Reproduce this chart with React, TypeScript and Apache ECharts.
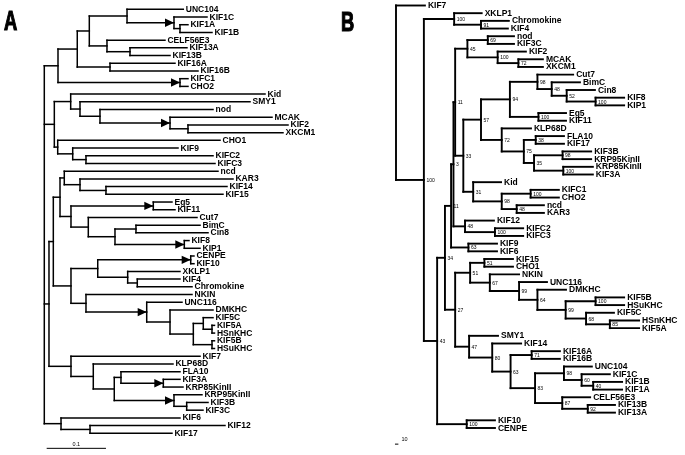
import React, { useEffect, useRef } from "react";
import * as echarts from "echarts";

type Row = [string, string | null, number, number?];

// Tree A: [node, parent, depth from root in substitutions per site]
const treeANodes: Row[] = [
  ["a:root", null, 0],
  ["a:n1", "a:root", 0.0231],
  ["a:n2", "a:n1", 0.0556],
  ["a:n3", "a:n2", 0.0759],
  ["a:unc", "a:n3", 0.1395],
  ["UNC104", "a:unc", 0.2344],
  ["a:kif1", "a:unc", 0.2187],
  ["KIF1C", "a:kif1", 0.2744],
  ["a:kif1ab", "a:kif1", 0.2288],
  ["KIF1A", "a:kif1ab", 0.2423],
  ["KIF1B", "a:kif1ab", 0.2828],
  ["a:celf", "a:n3", 0.1057],
  ["CELF56E3", "a:celf", 0.2035],
  ["a:kif13", "a:celf", 0.1445],
  ["KIF13A", "a:kif13", 0.2406],
  ["KIF13B", "a:kif13", 0.212],
  ["a:kif16", "a:n2", 0.1108],
  ["KIF16A", "a:kif16", 0.2204],
  ["KIF16B", "a:kif16", 0.2592],
  ["a:kifc1", "a:n1", 0.2288],
  ["KIFC1", "a:kifc1", 0.2423],
  ["CHO2", "a:kifc1", 0.2423],
  ["a:m", "a:root", 0.0169],
  ["a:k", "a:m", 0.0445],
  ["Kid", "a:k", 0.3722],
  ["a:s", "a:k", 0.0602],
  ["SMY1", "a:s", 0.3469],
  ["a:nod", "a:s", 0.0939],
  ["nod", "a:nod", 0.2845],
  ["a:mcak", "a:nod", 0.212],
  ["MCAK", "a:mcak", 0.384],
  ["a:kif2", "a:mcak", 0.2423],
  ["KIF2", "a:kif2", 0.411],
  ["XKCM1", "a:kif2", 0.4025],
  ["a:p", "a:m", 0.0226],
  ["CHO1", "a:p", 0.2963],
  ["a:q", "a:p", 0.0479],
  ["KIF9", "a:q", 0.2255],
  ["a:kifc2", "a:q", 0.0703],
  ["KIFC2", "a:kifc2", 0.2845],
  ["KIFC3", "a:kifc2", 0.2879],
  ["a:h", "a:root", 0.0079],
  ["a:g", "a:h", 0.0152],
  ["a:e", "a:g", 0.0265],
  ["a:ncd", "a:e", 0.0337],
  ["ncd", "a:ncd", 0.2929],
  ["a:kar3", "a:ncd", 0.0602],
  ["KAR3", "a:kar3", 0.3182],
  ["a:kif14", "a:kar3", 0.104],
  ["KIF14", "a:kif14", 0.3081],
  ["KIF15", "a:kif14", 0.3013],
  ["a:eg", "a:e", 0.045],
  ["a:eg5", "a:eg", 0.1838],
  ["Eg5", "a:eg5", 0.2153],
  ["KIF11", "a:eg5", 0.2204],
  ["a:cut7", "a:eg", 0.0742],
  ["Cut7", "a:cut7", 0.2575],
  ["a:bim", "a:cut7", 0.1192],
  ["a:bimc", "a:bim", 0.1546],
  ["BimC", "a:bimc", 0.2626],
  ["Cin8", "a:bimc", 0.2761],
  ["a:kif8", "a:bim", 0.2361],
  ["KIF8", "a:kif8", 0.244],
  ["KIP1", "a:kif8", 0.2626],
  ["a:f", "a:g", 0.045],
  ["a:cenpeg", "a:f", 0.0901],
  ["a:cenpe", "a:cenpeg", 0.2469],
  ["CENPE", "a:cenpe", 0.2524],
  ["KIF10", "a:cenpe", 0.2524],
  ["a:xklp", "a:cenpeg", 0.1406],
  ["XKLP1", "a:xklp", 0.2288],
  ["a:kif4", "a:xklp", 0.1568],
  ["KIF4", "a:kif4", 0.2288],
  ["Chromokine", "a:kif4", 0.2491],
  ["a:nkin", "a:f", 0.0703],
  ["NKIN", "a:nkin", 0.2491],
  ["a:unc116", "a:nkin", 0.1727],
  ["UNC116", "a:unc116", 0.2322],
  ["a:dmk", "a:unc116", 0.212],
  ["DMKHC", "a:dmk", 0.2845],
  ["a:kif5", "a:dmk", 0.2513],
  ["a:kif5c", "a:kif5", 0.2681],
  ["KIF5C", "a:kif5c", 0.2845],
  ["a:kif5a", "a:kif5c", 0.2828],
  ["KIF5A", "a:kif5a", 0.287],
  ["HSnKHC", "a:kif5a", 0.287],
  ["a:kif5b", "a:kif5", 0.2828],
  ["KIF5B", "a:kif5b", 0.287],
  ["HSuKHC", "a:kif5b", 0.287],
  ["a:kif7", "a:h", 0.045],
  ["KIF7", "a:kif7", 0.2626],
  ["a:klp", "a:kif7", 0.0826],
  ["KLP68D", "a:klp", 0.217],
  ["a:kif3", "a:klp", 0.118],
  ["a:fla", "a:kif3", 0.1293],
  ["FLA10", "a:fla", 0.2288],
  ["a:kif3a", "a:fla", 0.2007],
  ["KIF3A", "a:kif3a", 0.2288],
  ["KRP85KinII", "a:kif3a", 0.2339],
  ["a:krp95", "a:kif3", 0.2187],
  ["KRP95KinII", "a:krp95", 0.2659],
  ["a:kif3b", "a:krp95", 0.2401],
  ["KIF3B", "a:kif3b", 0.2761],
  ["KIF3C", "a:kif3b", 0.2676],
  ["a:kif6", "a:root", 0.0282],
  ["KIF6", "a:kif6", 0.2288],
  ["a:kif12", "a:kif6", 0.0771],
  ["KIF12", "a:kif12", 0.3047],
  ["KIF17", "a:kif12", 0.2153],
];

// nodes of tree A marked with an arrowhead
const treeAArrows: string[] = [
  "a:kif1", "a:kifc1", "a:mcak", "a:eg5", "a:kif8",
  "a:cenpe", "a:unc116", "a:kif3a", "a:krp95",
];

// Tree B: [node, parent, depth from root in steps, bootstrap support]
const treeBNodes: Row[] = [
  ["b:root", null, 0],
  ["KIF7", "b:root", 85],
  ["b:0", "b:root", 82, 100],
  ["b:xk", "b:0", 171, 100],
  ["XKLP1", "b:xk", 252],
  ["b:chr", "b:xk", 250, 91],
  ["Chromokine", "b:chr", 332],
  ["KIF4", "b:chr", 329],
  ["b:43", "b:0", 121, 43],
  ["b:34", "b:43", 144, 34],
  ["b:11b", "b:34", 162, 11],
  ["b:3", "b:11b", 169, 3],
  ["b:11a", "b:3", 174, 11],
  ["b:45", "b:11a", 210, 45],
  ["b:nod", "b:45", 270, 69],
  ["nod", "b:nod", 347],
  ["KIF3C", "b:nod", 347],
  ["b:kif2", "b:45", 299, 100],
  ["KIF2", "b:kif2", 382],
  ["b:mcak", "b:kif2", 360, 72],
  ["MCAK", "b:mcak", 432],
  ["XKCM1", "b:mcak", 432],
  ["b:33", "b:11a", 198, 33],
  ["b:57", "b:33", 250, 57],
  ["b:94", "b:57", 335, 94],
  ["b:cut7", "b:94", 416, 98],
  ["Cut7", "b:cut7", 521],
  ["b:bimc", "b:cut7", 458, 48],
  ["BimC", "b:bimc", 541],
  ["b:cin8", "b:bimc", 502, 52],
  ["Cin8", "b:cin8", 585],
  ["b:kif8", "b:cin8", 587, 100],
  ["KIF8", "b:kif8", 671],
  ["KIP1", "b:kif8", 671],
  ["b:eg5", "b:94", 419, 100],
  ["Eg5", "b:eg5", 500],
  ["KIF11", "b:eg5", 500],
  ["b:72", "b:57", 311, 72],
  ["KLP68D", "b:72", 397],
  ["b:75", "b:72", 376, 75],
  ["b:fla", "b:75", 411, 38],
  ["FLA10", "b:fla", 494],
  ["KIF17", "b:fla", 494],
  ["b:35", "b:75", 406, 35],
  ["b:kif3b", "b:35", 490, 98],
  ["KIF3B", "b:kif3b", 574],
  ["KRP95KinII", "b:kif3b", 574],
  ["b:krp85", "b:35", 492, 100],
  ["KRP85KinII", "b:krp85", 579],
  ["KIF3A", "b:krp85", 579],
  ["b:31", "b:33", 227, 31],
  ["Kid", "b:31", 309],
  ["b:98", "b:31", 311, 98],
  ["b:kifc1", "b:98", 396, 100],
  ["KIFC1", "b:kifc1", 479],
  ["CHO2", "b:kifc1", 479],
  ["b:ncd", "b:98", 355, 48],
  ["ncd", "b:ncd", 435],
  ["KAR3", "b:ncd", 435],
  ["b:kif12", "b:3", 203, 48],
  ["KIF12", "b:kif12", 288],
  ["b:kifc2", "b:kif12", 291, 100],
  ["KIFC2", "b:kifc2", 374],
  ["KIFC3", "b:kifc2", 374],
  ["b:kif9", "b:11b", 213, 63],
  ["KIF9", "b:kif9", 297],
  ["KIF6", "b:kif9", 297],
  ["b:27", "b:34", 174, 27],
  ["b:51", "b:27", 218, 51],
  ["b:kif15", "b:51", 260, 51],
  ["KIF15", "b:kif15", 344],
  ["CHO1", "b:kif15", 344],
  ["b:67", "b:51", 276, 67],
  ["NKIN", "b:67", 362],
  ["b:99", "b:67", 362, 99],
  ["UNC116", "b:99", 444],
  ["b:64", "b:99", 416, 64],
  ["DMKHC", "b:64", 500],
  ["b:99b", "b:64", 499, 99],
  ["b:kif5b", "b:99b", 587, 100],
  ["KIF5B", "b:kif5b", 671],
  ["HSuKHC", "b:kif5b", 671],
  ["b:68", "b:99b", 559, 68],
  ["KIF5C", "b:68", 641],
  ["b:85", "b:68", 629, 85],
  ["HSnKHC", "b:85", 715],
  ["KIF5A", "b:85", 715],
  ["b:47", "b:27", 215, 47],
  ["SMY1", "b:47", 300],
  ["b:80", "b:47", 283, 80],
  ["KIF14", "b:80", 368],
  ["b:63", "b:80", 337, 63],
  ["b:kif16", "b:63", 399, 71],
  ["KIF16A", "b:kif16", 482],
  ["KIF16B", "b:kif16", 482],
  ["b:83", "b:63", 409, 83],
  ["b:unc", "b:83", 494, 98],
  ["UNC104", "b:unc", 576],
  ["b:60", "b:unc", 546, 60],
  ["KIF1C", "b:60", 629],
  ["b:kif1b", "b:60", 580, 40],
  ["KIF1B", "b:kif1b", 665],
  ["KIF1A", "b:kif1b", 665],
  ["b:celf", "b:83", 489, 87],
  ["CELF56E3", "b:celf", 571],
  ["b:kif13", "b:celf", 564, 92],
  ["KIF13B", "b:kif13", 644],
  ["KIF13A", "b:kif13", 644],
  ["b:kif10", "b:43", 208, 100],
  ["KIF10", "b:kif10", 291],
  ["CENPE", "b:kif10", 291],
];

const scaleA = { length: 0.1, label: "0.1" };
const scaleB = { length: 10, label: "10" };
const panelLabels = ["A", "B"];

interface Laid {
  id: string;
  depth: number;
  parentDepth: number | null;
  y: number;
  yTop: number;
  yBot: number;
  leaf: boolean;
  support: number | null;
}

function layoutTree(rows: Row[]): Laid[] {
  const kids: Record<string, string[]> = {};
  const depth: Record<string, number> = {};
  rows.forEach((r) => {
    depth[r[0]] = r[2];
    if (r[1]) (kids[r[1]] = kids[r[1]] || []).push(r[0]);
  });
  const y: Record<string, number> = {};
  let k = 0;
  rows.forEach((r) => {
    if (!kids[r[0]]) y[r[0]] = k++;
  });
  const getY = (id: string): number => {
    if (y[id] === undefined) {
      const c = kids[id];
      y[id] = (getY(c[0]) + getY(c[c.length - 1])) / 2;
    }
    return y[id];
  };
  return rows.map((r) => {
    const c = kids[r[0]];
    return {
      id: r[0],
      depth: r[2],
      parentDepth: r[1] ? depth[r[1]] : null,
      y: getY(r[0]),
      yTop: c ? getY(c[0]) : getY(r[0]),
      yBot: c ? getY(c[c.length - 1]) : getY(r[0]),
      leaf: !c,
      support: r[3] === undefined ? null : r[3],
    };
  });
}

const FONT = '"Liberation Sans", Arial, Helvetica, sans-serif';

function makeTreeRender(nodes: Laid[], lw: number, gap: number, arrows: string[]) {
  return (params: any, api: any) => {
    const n = nodes[params.dataIndex];
    const p = api.coord([n.depth, n.y]);
    const ls = { stroke: "#000", lineWidth: lw, lineCap: "square" };
    const ch: any[] = [];
    if (n.parentDepth !== null) {
      const q = api.coord([n.parentDepth, n.y]);
      ch.push({ type: "line", shape: { x1: q[0], y1: p[1], x2: p[0], y2: p[1] }, style: ls });
    }
    if (!n.leaf) {
      const t = api.coord([n.depth, n.yTop]);
      const b = api.coord([n.depth, n.yBot]);
      ch.push({ type: "line", shape: { x1: p[0], y1: t[1], x2: p[0], y2: b[1] }, style: ls });
    } else {
      ch.push({
        type: "text",
        style: {
          text: n.id,
          x: p[0] + gap,
          y: p[1] - 0.5,
          fill: "#000",
          font: `bold 8.5px ${FONT}`,
          lineHeight: 7,
          textAlign: "left",
          textVerticalAlign: "middle",
        },
      });
    }
    if (arrows.indexOf(n.id) >= 0) {
      ch.push({
        type: "polygon",
        shape: { points: [[p[0], p[1]], [p[0] - 9, p[1] - 4.2], [p[0] - 9, p[1] + 4.2]] },
        style: { fill: "#000" },
      });
    }
    if (n.support !== null) {
      ch.push({
        type: "text",
        style: {
          text: String(n.support),
          x: p[0] + 2.5,
          y: p[1],
          fill: "#000",
          font: `5px ${FONT}`,
          lineHeight: 5,
          textAlign: "left",
          textVerticalAlign: "middle",
        },
      });
    }
    return { type: "group", children: ch };
  };
}

function makeScaleRender(length: number, label: string, lw: number, centered: boolean) {
  return (params: any, api: any) => {
    const a = api.coord([api.value(0), api.value(1)]);
    const b = api.coord([api.value(0) + length, api.value(1)]);
    return {
      type: "group",
      children: [
        { type: "line", shape: { x1: a[0], y1: a[1], x2: b[0], y2: b[1] }, style: { stroke: "#000", lineWidth: lw } },
        {
          type: "text",
          style: {
            text: label,
            x: centered ? (a[0] + b[0]) / 2 : b[0] + 3,
            y: a[1] - (centered ? 4 : 5),
            fill: "#000",
            font: `5.5px ${FONT}`,
            textAlign: centered ? "center" : "left",
            textVerticalAlign: "middle",
          },
        },
      ],
    };
  };
}

export default function App() {
  const ref = useRef<HTMLDivElement>(null);
  useEffect(() => {
    if (!ref.current) return;
    const chart = echarts.init(ref.current, null, { renderer: "svg", width: 685, height: 455 });
    const nodesA = layoutTree(treeANodes);
    const nodesB = layoutTree(treeBNodes);
    const leavesA = nodesA.filter((n) => n.leaf).length - 1;
    const leavesB = nodesB.filter((n) => n.leaf).length - 1;
    const hidden = { show: false };
    chart.setOption({
      animation: false,
      backgroundColor: "#fff",
      grid: [
        { left: 44.3, top: 9.3, width: 296.5, height: 424 },
        { left: 396, top: 5.5, width: 280, height: 422.5 },
      ],
      xAxis: [
        { gridIndex: 0, type: "value", min: 0, max: 0.5, ...hidden },
        { gridIndex: 1, type: "value", min: 0, max: 280 / 0.34, ...hidden },
      ],
      yAxis: [
        { gridIndex: 0, type: "value", min: 0, max: leavesA, inverse: true, ...hidden },
        { gridIndex: 1, type: "value", min: 0, max: leavesB, inverse: true, ...hidden },
      ],
      graphic: [
        {
          type: "text", x: 4, y: 7, scaleX: 0.68,
          style: { text: panelLabels[0], font: `bold 27px ${FONT}`, fill: "#000", stroke: "#000", lineWidth: 1.2, textVerticalAlign: "top" },
        },
        {
          type: "text", x: 341, y: 8, scaleX: 0.68,
          style: { text: panelLabels[1], font: `bold 27px ${FONT}`, fill: "#000", stroke: "#000", lineWidth: 1.2, textVerticalAlign: "top" },
        },
      ],
      series: [
        {
          type: "custom",
          xAxisIndex: 0,
          yAxisIndex: 0,
          clip: false,
          data: nodesA.map((n) => [n.depth, n.y]),
          renderItem: makeTreeRender(nodesA, 1.5, 2.5, treeAArrows),
        },
        {
          type: "custom",
          xAxisIndex: 1,
          yAxisIndex: 1,
          clip: false,
          data: nodesB.map((n) => [n.depth, n.y]),
          renderItem: makeTreeRender(nodesB, 1.9, 3, []),
        },
        {
          type: "custom",
          xAxisIndex: 0,
          yAxisIndex: 0,
          clip: false,
          data: [[0.004, leavesA + 1.95]],
          renderItem: makeScaleRender(scaleA.length, scaleA.label, 1, true),
        },
        {
          type: "custom",
          xAxisIndex: 1,
          yAxisIndex: 1,
          clip: false,
          data: [[-3, leavesB + 2.1]],
          renderItem: makeScaleRender(scaleB.length, scaleB.label, 1, false),
        },
      ],
    });
    return () => chart.dispose();
  }, []);
  return (
    <div
      ref={ref}
      style={{ position: "fixed", left: 0, top: 0, width: 685, height: 455, background: "#fff", filter: "grayscale(1)" }}
    />
  );
}
